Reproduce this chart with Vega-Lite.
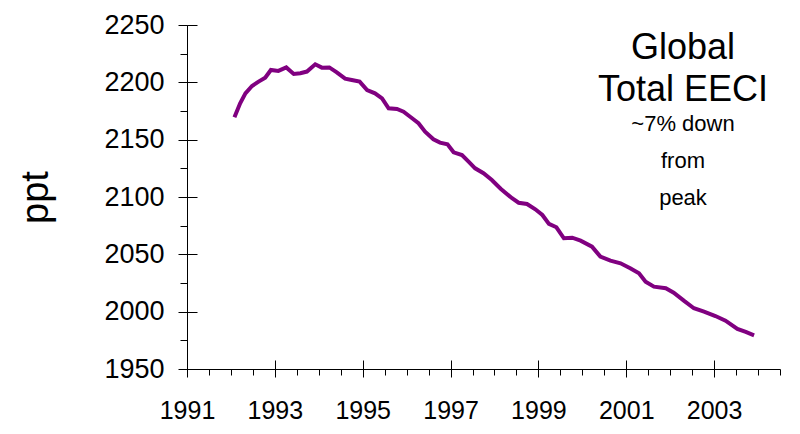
{
  "$schema": "https://vega.github.io/schema/vega-lite/v6.json",
  "width": 593,
  "height": 344,
  "autosize": {"type": "none"},
  "padding": {"left": 187, "top": 25, "right": 20, "bottom": 65},
  "background": "white",
  "config": {
    "view": {"stroke": null},
    "font": "Liberation Sans",
    "axis": {
      "grid": false,
      "domainColor": "black",
      "tickColor": "black",
      "labelColor": "black",
      "titleColor": "black",
      "labelFont": "Liberation Sans",
      "titleFont": "Liberation Sans",
      "titleFontWeight": "normal"
    }
  },
  "title": {
    "text": ["Global", "Total EECI"],
    "subtitle": ["~7% down", "from", "peak"],
    "orient": "top",
    "frame": "group",
    "anchor": "end",
    "align": "center",
    "dx": -97,
    "dy": 199,
    "offset": 0,
    "font": "Liberation Sans",
    "fontSize": 36,
    "fontWeight": "normal",
    "color": "black",
    "lineHeight": 42,
    "subtitleFont": "Liberation Sans",
    "subtitleFontSize": 22,
    "subtitleColor": "black",
    "subtitleLineHeight": 37,
    "subtitlePadding": 5
  },
  "data": {
    "values": [
      {"year": 1992.08, "ppt": 2169.5},
      {"year": 1992.21, "ppt": 2181.7},
      {"year": 1992.33, "ppt": 2190.4},
      {"year": 1992.48, "ppt": 2196.8},
      {"year": 1992.63, "ppt": 2200.6},
      {"year": 1992.78, "ppt": 2204.0},
      {"year": 1992.91, "ppt": 2210.8},
      {"year": 1993.08, "ppt": 2210.0},
      {"year": 1993.26, "ppt": 2213.0},
      {"year": 1993.43, "ppt": 2207.3},
      {"year": 1993.58, "ppt": 2208.0},
      {"year": 1993.73, "ppt": 2209.4},
      {"year": 1993.92, "ppt": 2215.7},
      {"year": 1994.07, "ppt": 2212.8},
      {"year": 1994.24, "ppt": 2213.0},
      {"year": 1994.41, "ppt": 2208.7},
      {"year": 1994.6, "ppt": 2203.2},
      {"year": 1994.75, "ppt": 2202.0},
      {"year": 1994.93, "ppt": 2200.6},
      {"year": 1995.1, "ppt": 2193.3},
      {"year": 1995.28, "ppt": 2190.4},
      {"year": 1995.44, "ppt": 2186.0},
      {"year": 1995.59, "ppt": 2177.4},
      {"year": 1995.78, "ppt": 2176.8},
      {"year": 1995.93, "ppt": 2174.4},
      {"year": 1996.08, "ppt": 2170.0},
      {"year": 1996.27, "ppt": 2164.3},
      {"year": 1996.42, "ppt": 2157.0},
      {"year": 1996.61, "ppt": 2150.3},
      {"year": 1996.76, "ppt": 2147.4},
      {"year": 1996.93, "ppt": 2146.0},
      {"year": 1997.07, "ppt": 2139.0},
      {"year": 1997.26, "ppt": 2136.6},
      {"year": 1997.41, "ppt": 2130.8},
      {"year": 1997.56, "ppt": 2125.0},
      {"year": 1997.75, "ppt": 2120.7},
      {"year": 1997.94, "ppt": 2114.8},
      {"year": 1998.14, "ppt": 2107.2},
      {"year": 1998.4, "ppt": 2098.9},
      {"year": 1998.55, "ppt": 2095.0},
      {"year": 1998.74, "ppt": 2093.9},
      {"year": 1998.93, "ppt": 2089.3},
      {"year": 1999.09, "ppt": 2084.3},
      {"year": 1999.24, "ppt": 2076.5},
      {"year": 1999.41, "ppt": 2073.6},
      {"year": 1999.58, "ppt": 2064.0},
      {"year": 1999.77, "ppt": 2064.5},
      {"year": 1999.96, "ppt": 2061.9},
      {"year": 2000.22, "ppt": 2056.7},
      {"year": 2000.41, "ppt": 2048.0},
      {"year": 2000.64, "ppt": 2044.5},
      {"year": 2000.87, "ppt": 2042.2},
      {"year": 2001.09, "ppt": 2037.9},
      {"year": 2001.29, "ppt": 2033.5},
      {"year": 2001.44, "ppt": 2026.2},
      {"year": 2001.63, "ppt": 2021.8},
      {"year": 2001.9, "ppt": 2020.4},
      {"year": 2002.08, "ppt": 2016.6},
      {"year": 2002.31, "ppt": 2009.6},
      {"year": 2002.54, "ppt": 2003.0},
      {"year": 2002.77, "ppt": 2000.0},
      {"year": 2003.03, "ppt": 1996.2},
      {"year": 2003.26, "ppt": 1992.1},
      {"year": 2003.53, "ppt": 1984.9},
      {"year": 2003.72, "ppt": 1982.3},
      {"year": 2003.91, "ppt": 1979.4}
    ]
  },
  "layer": [
    {
      "mark": {"type": "line", "strokeOpacity": 0},
      "encoding": {
        "x": {
          "field": "year", "type": "quantitative",
          "scale": {"domain": [1991, 2004.5], "nice": false, "zero": false},
          "axis": {"orient": "bottom", "values": [1991, 1991.5, 1992, 1992.5, 1993, 1993.5, 1994, 1994.5, 1995, 1995.5, 1996, 1996.5, 1997, 1997.5, 1998, 1998.5, 1999, 1999.5, 2000, 2000.5, 2001, 2001.5, 2002, 2002.5, 2003, 2003.5, 2004, 2004.5],
                   "labels": false, "domain": false, "tickSize": 6, "title": null}
        },
        "y": {
          "field": "ppt", "type": "quantitative",
          "scale": {"domain": [1950, 2250], "nice": false, "zero": false},
          "axis": {"orient": "left", "values": [1950, 1975, 2000, 2025, 2050, 2075, 2100, 2125, 2150, 2175, 2200, 2225, 2250],
                   "labels": false, "domain": false, "tickSize": 7, "title": null}
        }
      }
    },
    {
      "mark": {"type": "line", "strokeOpacity": 0},
      "encoding": {
        "x": {
          "field": "year", "type": "quantitative",
          "axis": {"orient": "bottom", "values": [1991, 1993, 1995, 1997, 1999, 2001, 2003],
                   "labels": false, "domain": false, "tickSize": -9, "title": null}
        },
        "y": {
          "field": "ppt", "type": "quantitative",
          "axis": {"orient": "left", "values": [1950, 2000, 2050, 2100, 2150, 2200, 2250],
                   "labels": false, "domain": false, "tickSize": -10, "title": null}
        }
      }
    },
    {
      "mark": {"type": "line", "stroke": "#800080", "strokeWidth": 4},
      "encoding": {
        "x": {
          "field": "year", "type": "quantitative",
          "axis": {"orient": "bottom", "values": [1991, 1993, 1995, 1997, 1999, 2001, 2003],
                   "format": "d", "labelFontSize": 25, "tickSize": 8, "labelPadding": 21,
                   "labelFlush": false, "labelOverlap": false, "title": null}
        },
        "y": {
          "field": "ppt", "type": "quantitative",
          "axis": {"orient": "left", "values": [1950, 2000, 2050, 2100, 2150, 2200, 2250],
                   "format": "d", "labelFontSize": 27, "tickSize": 9, "labelPadding": 14,
                   "labelOverlap": false, "title": "ppt", "titleFontSize": 38, "titlePadding": 48}
        }
      }
    }
  ],
  "resolve": {"axis": {"x": "independent", "y": "independent"}}
}
